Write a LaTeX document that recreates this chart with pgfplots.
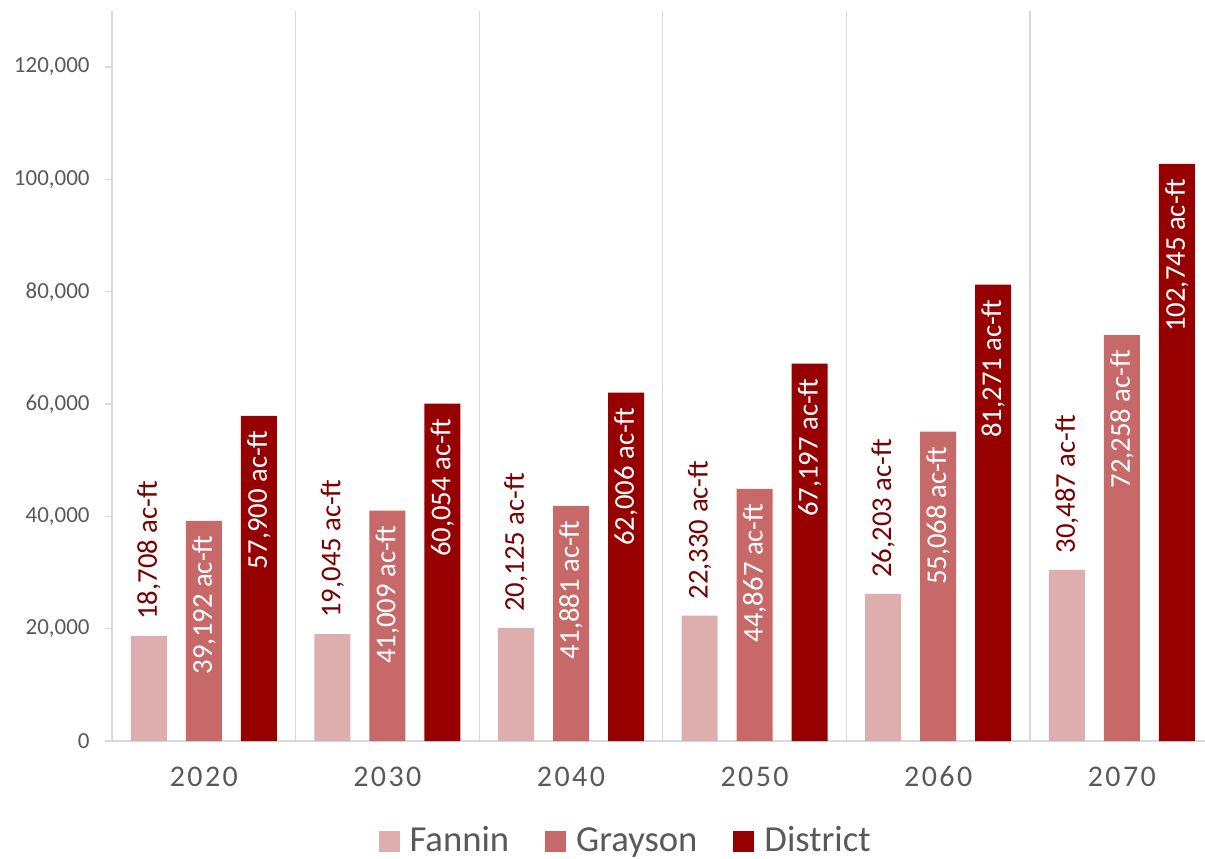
\documentclass[border=0pt]{standalone}
\usepackage{fontspec}
\setmainfont{Carlito}
\newfontfamily\xfont[LetterSpace=8]{Carlito}
\usepackage{pgfplots}
\pgfplotsset{compat=1.18}
\definecolor{fannin}{HTML}{DEADAD}
\definecolor{grayson}{HTML}{C86969}
\definecolor{district}{HTML}{960000}
\definecolor{lbl}{HTML}{780000}
\definecolor{txt}{HTML}{595959}
\definecolor{gridc}{HTML}{D9D9D9}
\begin{document}
\begin{tikzpicture}
\useasboundingbox (-84pt,-87.75pt) rectangle (819.75pt,555.75pt);
\begin{axis}[
  scale only axis, width=819.75pt, height=547.65pt,
  xmin=-0.5, xmax=5.4532, ymin=0, ymax=130000,
  ybar, bar width=27pt,
  axis lines*=left,
  axis line style={gridc, line width=1pt},
  xtick={0,...,5}, xticklabels={2020,2030,2040,2050,2060,2070},
  minor xtick={0.5,1.5,2.5,3.5,4.5},
  xminorgrids, minor grid style={gridc, line width=1pt},
  ytick={0,20000,...,120000}, scaled y ticks=false,
  /pgf/number format/fixed, /pgf/number format/1000 sep={,},
  /pgf/number format/assume math mode=true,
  tick align=outside, major tick length=5.25pt,
  xtick style={draw=none}, ytick style={gridc, line width=1pt},
  tick label style={text=txt},
  yticklabel style={font=\fontsize{17.25}{20}\selectfont, xshift=-8pt},
  xticklabel style={font=\xfont\fontsize{22.5}{27}\selectfont, yshift=-10.5pt},
  legend style={at={(0.4690,-0.1360)}, anchor=center, draw=none, fill=none,
    legend columns=-1, font=\fontsize{27.5}{32}\selectfont, text=txt,
    nodes={inner sep=0pt}, cells={anchor=base west},
    /tikz/every odd column/.append style={column sep=7.5pt},
    /tikz/every even column/.append style={column sep=27pt}},
  legend image code/.code={\fill[#1] (0pt,0pt) rectangle (15.75pt,15.75pt);},
  nodes near coords={\pgfmathprintnumber{\pgfplotspointmeta} ac-ft},
]
\addplot[fill=fannin, draw=none, bar shift=-41.25pt,
  every node near coord/.append style={rotate=90, anchor=west, inner xsep=12pt, inner ysep=0pt,
    text=lbl, font=\fontsize{21.5}{25}\selectfont}]
  coordinates {(0,18708) (1,19045) (2,20125) (3,22330) (4,26203) (5,30487)};
\addplot[fill=grayson, draw=none, bar shift=0pt,
  every node near coord/.append style={rotate=90, anchor=east, inner xsep=11pt, inner ysep=0pt,
    text=white, font=\fontsize{21.5}{25}\selectfont}]
  coordinates {(0,39192) (1,41009) (2,41881) (3,44867) (4,55068) (5,72258)};
\addplot[fill=district, draw=none, bar shift=41.25pt,
  every node near coord/.append style={rotate=90, anchor=east, inner xsep=11pt, inner ysep=0pt,
    text=white, font=\fontsize{21.5}{25}\selectfont}]
  coordinates {(0,57900) (1,60054) (2,62006) (3,67197) (4,81271) (5,102745)};
\legend{Fannin, Grayson, District}
\end{axis}
\end{tikzpicture}
\end{document}
